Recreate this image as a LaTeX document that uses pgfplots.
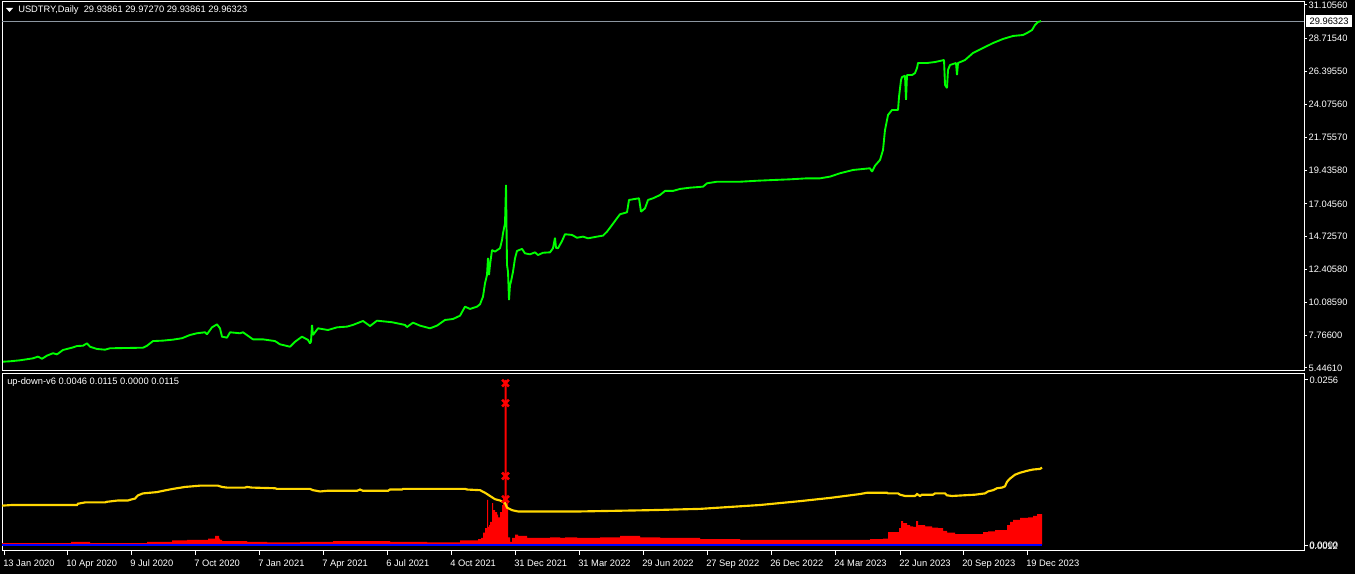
\documentclass[border=0pt]{standalone}
\usepackage{fontspec}
\setmainfont{Liberation Sans}
\usepackage{pgfplots}
\pgfplotsset{compat=1.18}
\usepackage{pgfplotstable}

\definecolor{mtgreen}{HTML}{00FF00}
\definecolor{mtgold}{HTML}{FFD700}
\definecolor{mtred}{HTML}{FF0000}
\definecolor{mtblue}{HTML}{0000FF}
\definecolor{mtline}{HTML}{8C96A0}

% x = bar position (one daily bar per pixel column), y = close
\pgfplotstableread{
x y
3 5.89
10 5.92
20 5.99
33 6.13
38 6.25
42 6.10
47 6.32
53 6.49
57 6.41
63 6.72
72 6.88
77 7.00
83 7.02
87 7.19
90 6.95
97 6.79
105 6.74
110 6.84
127 6.86
143 6.88
147 7.02
153 7.35
163 7.38
173 7.45
182 7.55
190 7.78
197 7.90
205 7.97
207 7.83
212 8.32
217 8.53
220 8.25
222 7.66
227 7.59
230 7.97
240 7.90
243 7.97
253 7.47
263 7.47
275 7.35
280 7.12
290 6.95
295 7.30
302 7.66
308 7.43
310 7.19
311 7.30
312 8.49
313 7.78
318 8.25
328 8.13
337 8.32
347 8.37
353 8.49
363 8.77
370 8.41
377 8.79
392 8.68
405 8.49
407 8.34
413 8.65
420 8.44
430 8.25
437 8.44
445 8.84
453 8.91
460 9.14
465 9.78
470 9.62
477 9.78
480 9.95
483 10.49
485 11.43
487 12.02
488 13.22
489 12.02
490 12.73
492 13.78
495 13.67
500 13.91
502 14.49
503 14.97
505 15.67
506 18.38
507 12.73
508 12.25
509 10.25
510 11.31
511 11.55
513 12.25
515 13.20
517 13.72
522 13.86
525 13.55
530 13.48
535 13.62
538 13.43
543 13.59
550 13.62
553 13.91
555 14.65
556 13.93
558 13.91
562 14.42
565 14.90
572 14.85
577 14.65
583 14.73
588 14.61
597 14.73
603 14.80
607 15.08
612 15.55
617 16.03
620 16.31
627 16.45
629 17.32
633 17.37
639 17.44
641 16.49
645 16.73
648 17.32
653 17.44
660 17.67
665 17.96
673 17.96
680 18.10
690 18.19
703 18.26
707 18.50
717 18.61
740 18.61
757 18.68
773 18.73
790 18.78
807 18.85
820 18.85
830 18.97
840 19.21
853 19.44
870 19.56
872 19.32
875 19.74
880 20.15
883 20.85
885 22.27
888 23.33
892 23.68
898 23.68
899 24.60
901 25.80
902 26.01
905 26.10
906 24.39
907 26.15
912 26.15
915 26.29
917 26.65
918 27.00
927 27.00
935 27.07
944 27.21
945 25.45
947 25.23
948 26.51
950 26.86
956 27.00
957 26.15
958 27.00
965 27.21
973 27.71
983 28.06
993 28.41
1003 28.70
1013 28.91
1023 28.98
1027 29.12
1032 29.33
1035 29.69
1038 29.90
1041 29.96
}\pricedata

\pgfplotstableread{
x y
2 0.0061
12 0.0062
77 0.0062
78 0.0064
85 0.0066
105 0.0066
107 0.0067
118 0.0069
128 0.0069
130 0.0070
135 0.0072
138 0.0077
143 0.0080
150 0.0081
157 0.0082
163 0.0084
173 0.0087
185 0.0090
200 0.0092
218 0.0092
222 0.0090
227 0.0089
245 0.0089
247 0.0090
252 0.0089
275 0.0088
277 0.0087
310 0.0087
313 0.0085
320 0.0083
327 0.0084
357 0.0084
360 0.0086
363 0.0084
388 0.0084
390 0.0086
402 0.0086
403 0.0087
465 0.0087
467 0.0086
480 0.0085
485 0.0081
490 0.0076
495 0.0071
500 0.0069
505 0.0065
507 0.0058
512 0.0054
518 0.0052
580 0.0052
650 0.0054
700 0.0056
760 0.0062
800 0.0068
830 0.0073
860 0.0079
867 0.0081
887 0.0081
888 0.0080
898 0.0080
900 0.0078
905 0.0076
915 0.0076
917 0.0079
920 0.0076
922 0.0078
933 0.0078
935 0.0080
945 0.0080
947 0.0077
952 0.0076
975 0.0078
985 0.0080
988 0.0083
993 0.0085
997 0.0088
1002 0.0089
1005 0.0091
1007 0.0098
1010 0.0103
1015 0.0109
1020 0.0112
1027 0.0115
1033 0.0117
1040 0.0118
1042 0.0120
}\avgdata

\pgfplotstableread{
x y
2 0.0003
71 0.0005
90 0.0003
147 0.0005
172 0.0007
187 0.0008
208 0.0010
215 0.0014
219 0.0010
220 0.0008
222 0.0006
247 0.0005
267 0.0004
300 0.0005
333 0.0006
390 0.0005
427 0.0004
460 0.0007
478 0.0009
481 0.0011
483 0.0019
485 0.0026
487 0.0070
488 0.0028
489 0.0031
490 0.0036
492 0.0065
493 0.0054
495 0.0051
497 0.0047
498 0.0043
500 0.0051
502 0.0062
503 0.0074
504.5 0.0256
506.5 0.0065
508 0.0012
510 0.0005
512 0.0011
515 0.0016
518 0.0014
522 0.0014
527 0.0011
550 0.0012
560 0.0011
565 0.0012
577 0.0011
600 0.0012
620 0.0014
640 0.0012
660 0.0011
700 0.0009
740 0.0008
870 0.0009
883 0.0010
888 0.0020
899 0.0026
901 0.0037
903 0.0034
907 0.0031
910 0.0029
913 0.0028
916 0.0037
918 0.0031
925 0.0029
932 0.0027
938 0.0026
943 0.0022
947 0.0019
955 0.0017
983 0.0020
988 0.0021
995 0.0023
1003 0.0023
1007 0.0031
1010 0.0036
1013 0.0039
1020 0.0042
1028 0.0043
1033 0.0045
1037 0.0048
1042 0.0048
}\histdata

\pgfplotsset{mt/.style={
    scale only axis,
    width=976.5pt,
    xmin=2, xmax=1304,
    axis line style={white, line width=0.75pt},
    tick style={white, line width=0.75pt},
    tick align=outside,
    major tick length=2.25pt,
    tick label style={white, font=\fontsize{7}{8}\selectfont},
    ytick pos=right,
    yticklabel pos=right,
    yticklabel style={anchor=west, inner sep=0pt, xshift=1pt},
    scaled y ticks=false,
    scaled x ticks=false,
}}

\begin{document}
\begin{tikzpicture}
\fill[black] (0,0) rectangle (1016.25pt,430.5pt);
\useasboundingbox (0,0) rectangle (1016.25pt,430.5pt);

\begin{axis}[mt,
    at={(1.5pt,152.25pt)}, anchor=south west,
    height=276.75pt,
    ymin=5.234, ymax=31.312,
    xtick=\empty,
    ytick={5.44610,7.76600,10.08590,12.40580,14.72570,17.04560,19.43580,21.75570,24.07560,26.39550,28.71540,31.10560},
    yticklabels={5.44610,7.76600,10.08590,12.40580,14.72570,17.04560,19.43580,21.75570,24.07560,26.39550,28.71540,31.10560},
]
\addplot[mtline, line width=0.75pt] coordinates {(2,29.96323) (1304,29.96323)};
\addplot[mtgreen, line width=1.4pt, line join=bevel] table[x=x, y=y] {\pricedata};
\end{axis}

\begin{axis}[mt,
    at={(1.5pt,17.25pt)}, anchor=south west,
    height=132.75pt,
    ymin=-0.00093, ymax=0.02651,
    ytick={0,0.0256},
    yticklabels={0.0000,0.0256},
    xtick pos=bottom,
    major tick length=3pt,
    xtick={4,67,131,195,259,323,387,451,515,579,643,707,771,835,900,963,1027},
    xticklabels={13 Jan 2020,10 Apr 2020,9 Jul 2020,7 Oct 2020,7 Jan 2021,7 Apr 2021,6 Jul 2021,4 Oct 2021,31 Dec 2021,31 Mar 2022,29 Jun 2022,27 Sep 2022,26 Dec 2022,24 Mar 2023,22 Jun 2023,20 Sep 2023,19 Dec 2023},
    xticklabel style={anchor=north west, inner sep=0pt, text height=5.2pt, text depth=1.4pt, xshift=-0.75pt, yshift=-3.5pt},
]
\addplot[const plot, fill=mtred, draw=none] table[x=x, y=y] {\histdata} \closedcycle;
\addplot[mtblue, line width=1.6pt] coordinates {(2,0) (1042,0)};
\addplot[mtgold, line width=1.6pt] table[x=x, y=y] {\avgdata};
\addplot[only marks, mark=x, mark size=3.6pt, mtred, line width=1.9pt]
    coordinates {(505.5,0.0251) (505.5,0.0220) (505.5,0.0107) (505.5,0.0071)};
\end{axis}

\begin{scope}[x=0.75pt, y=-0.75pt, shift={(0,430.5pt)},
    every node/.style={font=\fontsize{7}{8}\selectfont, inner sep=0pt}]
\fill[white] (6,8) -- (13,8) -- (9.5,12) -- cycle;
\node[white, anchor=west] at (18,10) {USDTRY,Daily\ \ 29.93861 29.97270 29.93861 29.96323};
\node[white, anchor=west] at (7,382) {up-down-v6 0.0046 0.0115 0.0000 0.0115};
\node[fill=white, text=black, anchor=west, inner xsep=2.5pt, minimum height=9pt] at (1306,21) {29.96323};
\node[white, anchor=west] at (1309,546.5) {0.0012};
\end{scope}
\end{tikzpicture}
\end{document}
